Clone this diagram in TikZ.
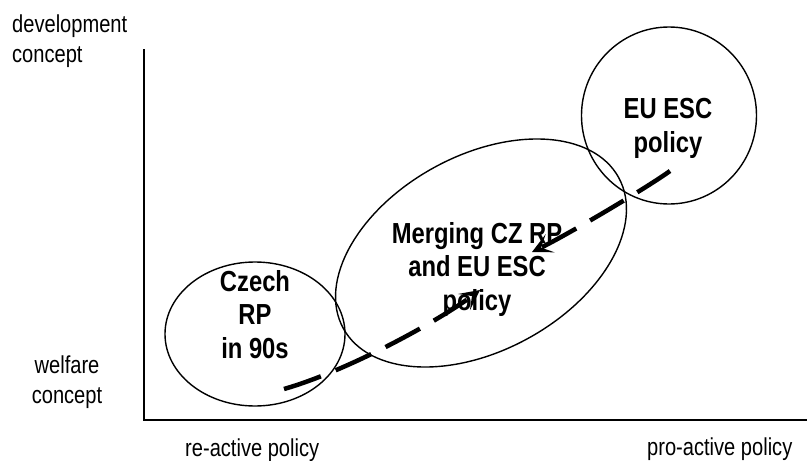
\documentclass[tikz,border=0pt]{standalone}
\usepackage{fontspec}
\setmainfont[FakeStretch=0.82]{Liberation Sans}
\usetikzlibrary{shapes.geometric,arrows.meta}

\begin{document}
\begin{tikzpicture}[x=1pt,y=-1pt,
  axislabel/.style={font=\fontsize{24.5}{29.5}\selectfont, inner sep=0pt},
  bublabel/.style={font=\fontsize{29}{33.5}\selectfont\bfseries, align=center, inner sep=0pt, anchor=base},
  bubble/.style={draw, ellipse, line width=1.4pt, inner sep=0pt},
  axis/.style={line width=2pt},
  flow/.style={line width=4.5pt, dash pattern=on 39pt off 16pt,
    -{Stealth[length=20pt,width=20pt,inset=10pt]}}]
  \useasboundingbox (0,0) rectangle (807,461);

  % axes
  \coordinate (ytop) at (144,49);
  \coordinate (origin) at (144,420);
  \coordinate (xend) at (807,420);
  \draw[axis] (ytop) -- (origin) -- (xend);

  % axis labels (base anchor sits on the last line)
  \node[axislabel, anchor=base west, align=left] (dev) at (12,62) {development\\concept};
  \node[axislabel, anchor=base, align=center] (welf) at (67,403) {welfare\\concept};
  \node[axislabel, anchor=base west] (react) at (185,456) {re-active policy};
  \node[axislabel, anchor=base west] (proact) at (647,455) {pro-active policy};

  % the three policy areas
  \node[bubble, minimum width=180pt, minimum height=144pt] (czech) at (255,334) {};
  \node[bubble, minimum width=314pt, minimum height=195pt, rotate=28.7] (merge) at (481,253) {};
  \node[bubble, minimum width=175pt, minimum height=177pt] (eu) at (669,115.5) {};

  \node[bublabel] (czechtxt) at (255,358) {Czech\\RP\\in 90s};
  \node[bublabel] (mergetxt) at (477,310) {Merging CZ RP\\and EU ESC\\policy};
  \node[bublabel] (eutxt) at (668,152) {EU ESC\\policy};

  % movement between the areas
  \coordinate (fromCz) at (284,389);
  \coordinate (toMerge) at (480,290);
  \coordinate (fromEu) at (670,171);
  \coordinate (toMergeB) at (532,252);
  \draw[flow] (fromCz) .. controls (350,370) and (440,320) .. (toMerge);
  \draw[flow] (fromEu) .. controls (645,189) and (565,236) .. (toMergeB);
\end{tikzpicture}
\end{document}
